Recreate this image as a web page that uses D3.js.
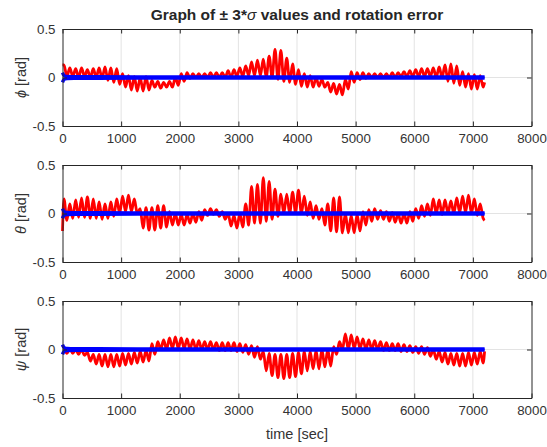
<!DOCTYPE html>
<meta charset="utf-8">
<script src="https://d3js.org/d3.v7.min.js"></script>
<style>
  body { margin: 0; background: #fff; }
  text { font-family: "Liberation Sans", Arial, Helvetica, sans-serif; fill: #262626; }
</style>
<div id="chart"></div>
<script>
// rotation error, read off the plot cycle by cycle (one oscillation ~ 100 s)
// each entry = max / min of one cycle, 72 cycles from 0 to 7200 s
var period = 100;

var phiStart = 0.13, phiEnd = -0.05;
var phiPeaks = [0.13, 0.10, 0.09, 0.10, 0.08, 0.09, 0.10, 0.11, 0.10, 0.09,
                0.04, 0.02, 0.01, 0.00, 0.01, -0.03, -0.04, -0.05, -0.04, 0.00,
                0.04, 0.05, 0.04, 0.04, 0.04, 0.05, 0.05, 0.05, 0.07, 0.08,
                0.10, 0.12, 0.16, 0.18, 0.19, 0.22, 0.29, 0.28, 0.20, 0.14,
                0.08, 0.04, 0.02, 0.00, -0.02, -0.05, -0.06, -0.07, -0.02, 0.06,
                0.05, 0.05, 0.04, 0.04, 0.04, 0.04, 0.05, 0.05, 0.06, 0.07,
                0.08, 0.09, 0.09, 0.10, 0.11, 0.13, 0.14, 0.12, 0.06, 0.04,
                0.03, 0.02];
var phiTroughs = [0.01, 0.01, 0.00, 0.01, 0.00, 0.00, -0.01, -0.03, -0.05, -0.07,
                  -0.10, -0.13, -0.14, -0.14, -0.13, -0.10, -0.11, -0.10, -0.10, -0.08,
                  -0.04, -0.01, 0.00, 0.00, 0.00, 0.00, 0.00, 0.00, 0.00, 0.01,
                  0.01, 0.02, 0.02, 0.02, 0.00, 0.00, -0.02, -0.04, -0.05, -0.07,
                  -0.09, -0.10, -0.10, -0.09, -0.10, -0.15, -0.17, -0.18, -0.12, -0.05,
                  -0.02, -0.01, 0.00, 0.00, 0.00, 0.00, 0.00, 0.01, 0.01, 0.01,
                  0.01, 0.01, 0.01, 0.00, 0.00, -0.04, -0.06, -0.08, -0.10, -0.12,
                  -0.12, -0.10];

var thetaStart = -0.18, thetaEnd = -0.07;
var thetaPeaks = [0.15, 0.10, 0.14, 0.16, 0.17, 0.15, 0.12, 0.10, 0.12, 0.15,
                  0.18, 0.19, 0.15, 0.05, 0.06, 0.06, 0.08, 0.08, 0.02, 0.00,
                  -0.01, -0.01, 0.00, 0.02, 0.04, 0.05, 0.04, 0.02, 0.00, -0.02,
                  0.00, 0.10, 0.28, 0.30, 0.37, 0.33, 0.25, 0.20, 0.20, 0.22,
                  0.24, 0.18, 0.12, 0.08, 0.05, 0.10, 0.16, 0.17, 0.00, -0.02,
                  -0.01, 0.02, 0.04, 0.05, 0.03, 0.02, 0.01, 0.00, 0.00, 0.02,
                  0.05, 0.08, 0.10, 0.15, 0.14, 0.14, 0.13, 0.16, 0.18, 0.19,
                  0.15, 0.10];
var thetaTroughs = [-0.07, -0.05, -0.04, -0.04, -0.05, -0.05, -0.06, -0.05, -0.03, 0.00,
                    0.02, 0.02, 0.00, -0.15, -0.17, -0.17, -0.15, -0.14, -0.12, -0.12,
                    -0.12, -0.10, -0.09, -0.07, -0.02, -0.01, -0.03, -0.06, -0.13, -0.15,
                    -0.14, -0.12, -0.10, -0.10, -0.08, -0.06, -0.03, 0.00, 0.00, 0.01,
                    0.00, -0.02, -0.05, -0.06, -0.12, -0.18, -0.19, -0.20, -0.20, -0.20,
                    -0.18, -0.12, -0.08, -0.06, -0.06, -0.08, -0.09, -0.10, -0.10, -0.08,
                    -0.05, -0.03, -0.02, 0.00, -0.01, 0.00, 0.00, 0.01, 0.01, 0.00,
                    -0.02, -0.05];

var psiStart = 0.04, psiEnd = -0.02;
var psiPeaks = [0.02, 0.01, 0.00, 0.00, -0.03, -0.05, -0.05, -0.05, -0.05, -0.05,
                -0.04, -0.04, -0.03, -0.02, -0.01, 0.06, 0.08, 0.10, 0.12, 0.13,
                0.12, 0.11, 0.10, 0.09, 0.08, 0.08, 0.07, 0.07, 0.07, 0.07,
                0.06, 0.05, 0.04, 0.03, -0.02, -0.04, -0.05, -0.05, -0.05, -0.04,
                -0.03, -0.02, -0.02, -0.01, 0.00, 0.00, 0.03, 0.08, 0.16, 0.15,
                0.13, 0.11, 0.10, 0.09, 0.08, 0.07, 0.06, 0.06, 0.05, 0.04,
                0.03, 0.03, 0.02, 0.00, -0.02, -0.03, -0.04, -0.04, -0.04, -0.03,
                -0.03, -0.02];
var psiTroughs = [-0.04, -0.04, -0.05, -0.06, -0.12, -0.15, -0.17, -0.18, -0.18, -0.17,
                  -0.16, -0.15, -0.14, -0.13, -0.12, -0.05, 0.00, 0.00, 0.01, 0.01,
                  0.01, 0.00, 0.00, 0.00, 0.00, 0.00, -0.01, -0.01, -0.01, -0.02,
                  -0.03, -0.05, -0.08, -0.10, -0.22, -0.27, -0.29, -0.30, -0.29, -0.28,
                  -0.25, -0.22, -0.20, -0.20, -0.18, -0.17, -0.05, 0.00, 0.00, 0.01,
                  0.01, 0.00, 0.00, 0.00, -0.01, -0.01, -0.01, -0.02, -0.02, -0.03,
                  -0.04, -0.05, -0.07, -0.10, -0.13, -0.15, -0.16, -0.17, -0.17, -0.16,
                  -0.15, -0.14];

// 3*sigma bound (drawn as +/-)
var sigmaTime = [0, 15, 40, 80, 200, 600, 2000, 7200];
var sigmaVal  = [0.05, 0.03, 0.015, 0.01, 0.008, 0.007, 0.006, 0.006];

var xTicks = [0, 1000, 2000, 3000, 4000, 5000, 6000, 7000, 8000];
var yTicks = [-0.5, 0, 0.5];

var panels = [
  {label: "\u03D5", start: phiStart, end: phiEnd, peaks: phiPeaks, troughs: phiTroughs, top: 29},
  {label: "\u03B8", start: thetaStart, end: thetaEnd, peaks: thetaPeaks, troughs: thetaTroughs, top: 165},
  {label: "\u03C8", start: psiStart, end: psiEnd, peaks: psiPeaks, troughs: psiTroughs, top: 301}
];

var W = 547, H = 447;
var left = 62.5, right = 531.5, ph = 97;

var svg = d3.select("#chart").append("svg")
  .attr("width", W).attr("height", H);

var x = d3.scaleLinear().domain([0, 8000]).range([left, right]);

function buildSeries(p) {
  var pts = [[0, p.start]];
  for (var k = 0; k < p.peaks.length; k++) {
    pts.push([k * period + 25, p.peaks[k]]);
    pts.push([k * period + 75, p.troughs[k]]);
  }
  pts.push([p.peaks.length * period, p.end]);
  return pts;
}

// matlab style labels: 0, 0.5, -0.5 and 1000 (no separators)
var fmt = d => String(d);

panels.forEach(function(p) {
  var y = d3.scaleLinear().domain([-0.5, 0.5]).range([p.top + ph, p.top]);
  var g = svg.append("g");

  // grid
  g.selectAll(".vg").data(xTicks.slice(1, -1)).enter().append("line")
    .attr("x1", d => x(d)).attr("x2", d => x(d))
    .attr("y1", p.top).attr("y2", p.top + ph)
    .style("stroke", "#e3e3e3").style("stroke-width", 1);
  g.append("line")
    .attr("x1", left).attr("x2", right)
    .attr("y1", y(0)).attr("y2", y(0))
    .style("stroke", "#e3e3e3").style("stroke-width", 1);

  // rotation error
  var line = d3.line()
    .x(d => x(d[0])).y(d => y(d[1]))
    .curve(d3.curveMonotoneX);
  g.append("path")
    .datum(buildSeries(p))
    .attr("d", line)
    .style("fill", "none").style("stroke", "#ff0000")
    .style("stroke-width", 2.8).style("stroke-linejoin", "round");

  // +/- 3 sigma
  var sline = d3.line().x((d, i) => x(sigmaTime[i])).curve(d3.curveMonotoneX);
  [1, -1].forEach(function(s) {
    g.append("path")
      .datum(sigmaVal)
      .attr("d", sline.y(d => y(s * d)))
      .style("fill", "none").style("stroke", "#0000ff")
      .style("stroke-width", 3.4);
  });

  // axes, ticks pointing inward, box on
  var ax = g.append("g");
  ax.append("g").attr("transform", "translate(0," + (p.top + ph) + ")")
    .call(d3.axisBottom(x).tickValues(xTicks).tickFormat(fmt).tickSizeInner(-4.5).tickSizeOuter(0).tickPadding(8));
  ax.append("g").attr("transform", "translate(0," + p.top + ")")
    .call(d3.axisTop(x).tickValues(xTicks).tickSizeInner(-4.5).tickSizeOuter(0).tickFormat(""));
  ax.append("g").attr("transform", "translate(" + left + ",0)")
    .call(d3.axisLeft(y).tickValues(yTicks).tickFormat(fmt).tickSizeInner(-4.5).tickSizeOuter(0).tickPadding(7));
  ax.append("g").attr("transform", "translate(" + right + ",0)")
    .call(d3.axisRight(y).tickValues(yTicks).tickSizeInner(-4.5).tickSizeOuter(0).tickFormat(""));
  ax.selectAll(".domain").style("stroke", "#262626");
  ax.selectAll(".tick line").style("stroke", "#262626");
  ax.selectAll(".tick text").style("font-size", "13.3px").style("fill", "#333")
    .style("font-family", "'Liberation Sans', Arial, sans-serif");

  // y label
  var yl = g.append("text")
    .attr("transform", "translate(26," + (p.top + ph / 2) + ") rotate(-90)")
    .attr("text-anchor", "middle")
    .style("font-size", "14.5px").style("fill", "#333");
  yl.append("tspan").style("font-style", "italic").text(p.label);
  yl.append("tspan").text(" [rad]");
});

// title
var title = svg.append("text")
  .attr("x", (left + right) / 2).attr("y", 20)
  .attr("text-anchor", "middle")
  .style("font-size", "15.5px").style("font-weight", "bold");
title.append("tspan").text("Graph of \u00B1 3*");
title.append("tspan").style("font-style", "italic").style("font-weight", "normal").text("\u03C3");
title.append("tspan").text(" values and rotation error");

// x label
svg.append("text")
  .attr("x", (left + right) / 2).attr("y", 439)
  .attr("text-anchor", "middle")
  .style("font-size", "14.5px").style("fill", "#333")
  .text("time [sec]");
</script>
